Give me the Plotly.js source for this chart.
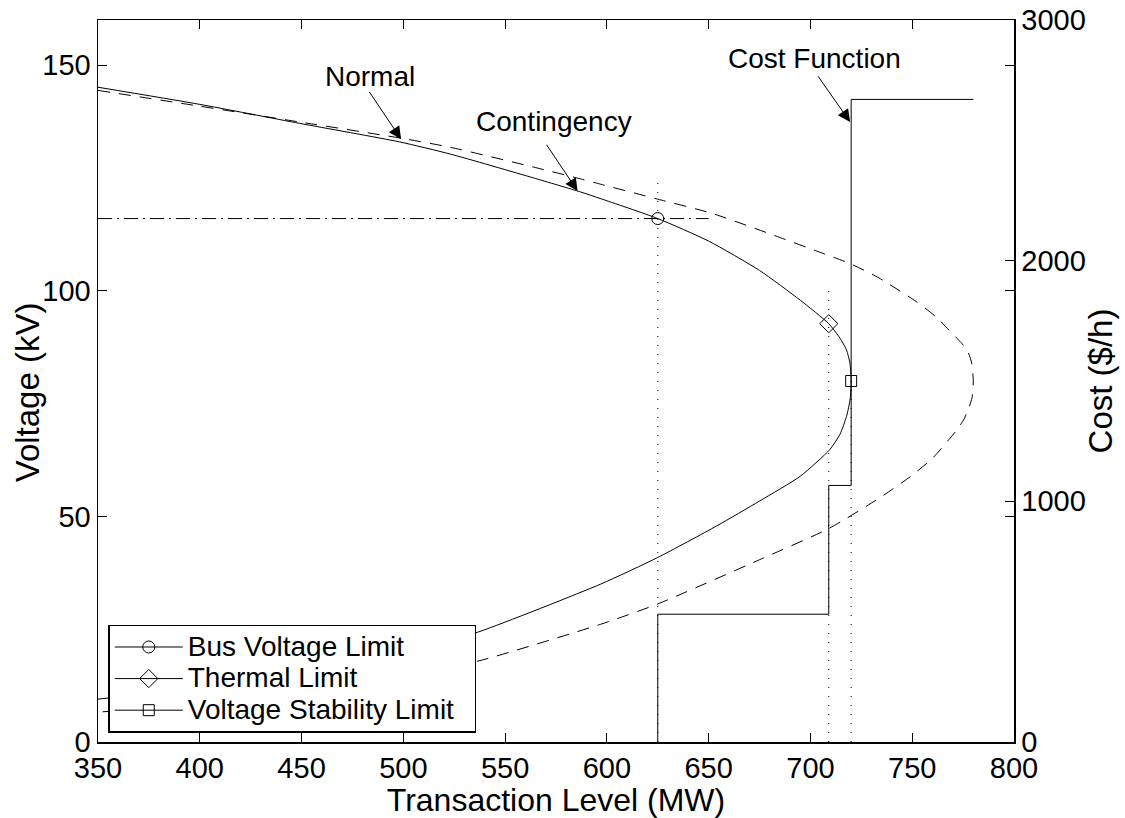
<!DOCTYPE html>
<html><head><meta charset="utf-8">
<script src="https://cdn.plot.ly/plotly-3.0.1.min.js"></script>
<style>body{margin:0;background:#fff}</style>
</head><body><div id="chart" style="width:1125px;height:818px"></div>
<script>
// Contingency PV curve (solid)
const contX = [350,400,449,498,523,564,587,597,625,650,675,695,709,714.5,717.7,719.4,720,719.5,717.7,714.5,709.5,695,675,654,625,597,537,500,450,400,350];
const contY = [145.1,141.3,137.1,133.0,130.3,125.0,121.9,120.4,116.0,111.0,104.5,97.9,92.7,89.5,86.9,84.0,80.0,76.0,72.1,68.2,64.8,58.9,53.4,47.9,40.9,35.0,24.4,19.5,15.0,12.0,9.5];
// Normal PV curve (dashed)
const normX = [350,400,449,499,523,564,587,597,625,652,685,703,719,731,736,752,762,768,774,777,779.2,780,779.4,778,775.5,772,760,749,734,709,675,625,597,539,500,450,400,350];
const normY = [144.4,140.9,137.4,133.8,131.8,127.4,124.8,123.6,120.3,117.1,111.8,108.8,106.1,103.5,102.2,97.6,94.1,91.3,88.5,86.9,84.0,80.0,76.3,74.3,71.6,69.2,62.9,58.8,54.1,47.3,40.4,30.6,26.1,18.2,14.2,11.0,8.6,6.6];
// Cost function steps ($/h)
const costX = [625,625,709,720,780];
const costY = [0,531,1066,2670,2670];
// Limits
const busLimit = {x:625, y:116.0};
const thermalLimit = {x:709, y:92.7};
const stabLimit = {x:720, y:80.0};
// Guide lines
const vGuideX = [625,709,720];
const vGuideTop = [125,100,80];
const hGuideY = 116.0;
const hGuideX = [350,650];
const leftTicks = [0,50,100,150];
const rightTicks = [0,1000,2000,3000];
const xTicks = [350,400,450,500,550,600,650,700,750,800];
const legendNames = ['Bus Voltage Limit','Thermal Limit','Voltage Stability Limit'];

const FONT = 'Liberation Sans, Arial, Helvetica, sans-serif';
const big = s => '<span style="font-size:28px">' + s + '&nbsp;&nbsp;</span>';
const traces = [];
vGuideX.forEach((gx,i)=>{
  traces.push({x:[gx,gx], y:[0,vGuideTop[i]], mode:'lines', line:{color:'#000',width:1,dash:'1px,8px'}, showlegend:false, hoverinfo:'skip'});
});
traces.push({x:hGuideX, y:[hGuideY,hGuideY], mode:'lines', line:{color:'#000',width:1,dash:'14px,5px,2px,5px'}, showlegend:false, hoverinfo:'skip'});
traces.push({x:normX, y:normY, mode:'lines', line:{color:'#000',width:1,dash:'12px,9px',shape:'spline',smoothing:0.6}, showlegend:false});
traces.push({x:contX, y:contY, mode:'lines', line:{color:'#000',width:1,shape:'spline',smoothing:0.6}, showlegend:false});
traces.push({x:costX, y:costY, yaxis:'y2', mode:'lines', line:{color:'#000',width:1,shape:'hv'}, showlegend:false});
traces.push({x:[busLimit.x], y:[busLimit.y], mode:'lines+markers', name:big(legendNames[0]),
  marker:{symbol:'circle-open',size:12,color:'#000',line:{width:1}}, line:{color:'#000',width:1}});
traces.push({x:[thermalLimit.x], y:[thermalLimit.y], mode:'lines+markers', name:big(legendNames[1]),
  marker:{symbol:'diamond-open',size:14,color:'#000',line:{width:1}}, line:{color:'#000',width:1}});
traces.push({x:[stabLimit.x], y:[stabLimit.y], mode:'lines+markers', name:big(legendNames[2]),
  marker:{symbol:'square-open',size:11,color:'#000',line:{width:1}}, line:{color:'#000',width:1}});

const axisCommon = {showgrid:false, zeroline:false, showline:true, linecolor:'#000', linewidth:1.5,
  ticks:'inside', ticklen:9, tickcolor:'#000', tickwidth:1, tickfont:{family:FONT,size:29,color:'#000'}};

const annFont = {family:FONT, size:28, color:'#000'};
const layout = {
  width:1125, height:818,
  margin:{l:98, r:111, t:20, b:76},
  paper_bgcolor:'#fff', plot_bgcolor:'#fff',
  font:{family:FONT, color:'#000'},
  xaxis:Object.assign({}, axisCommon, {range:[350,800], tickvals:xTicks, mirror:'ticks',
    title:{text:'Transaction Level (MW)', font:{family:FONT,size:32,color:'#000'}, standoff:0}}),
  yaxis:Object.assign({}, axisCommon, {range:[0,160], tickvals:leftTicks, mirror:'ticks'}),
  yaxis2:Object.assign({}, axisCommon, {range:[0,3000], tickvals:rightTicks, overlaying:'y', side:'right',
    title:{text:'Cost ($/h)', font:{family:FONT,size:33,color:'#000'}, standoff:4}}),
  legend:{x:0.0112, y:0.0129, xanchor:'left', yanchor:'bottom', bgcolor:'#fff', bordercolor:'#000', borderwidth:1.5,
    font:{family:FONT,size:22,color:'#000'}, itemwidth:68, tracegroupgap:0},
  showlegend:true,
  annotations:[
    {x:-0.077, y:0.485, xref:'paper', yref:'paper', text:'Voltage (kV)', textangle:-90, showarrow:false,
      xanchor:'center', yanchor:'middle', font:{family:FONT,size:33,color:'#000'}},
    {x:483.7, y:147.4, xref:'x', yref:'y', text:'Normal', showarrow:false, font:annFont},
    {x:574.0, y:137.4, xref:'x', yref:'y', text:'Contingency', showarrow:false, font:annFont},
    {x:701.9, y:151.4, xref:'x', yref:'y', text:'Cost Function', showarrow:false, font:annFont},
    {x:498.9, y:133.6, xref:'x', yref:'y', text:'', showarrow:true, arrowhead:2, arrowsize:2.5, arrowwidth:1, arrowcolor:'#000', ax:-32.7, ay:-48.6},
    {x:585.6, y:122.1, xref:'x', yref:'y', text:'', showarrow:true, arrowhead:2, arrowsize:2.5, arrowwidth:1, arrowcolor:'#000', ax:-32, ay:-47.7},
    {x:719.5, y:137.4, xref:'x', yref:'y', text:'', showarrow:true, arrowhead:2, arrowsize:2.5, arrowwidth:1, arrowcolor:'#000', ax:-33.2, ay:-47.3}
  ]
};
Plotly.newPlot('chart', traces, layout, {staticPlot:true});
</script></body></html>
